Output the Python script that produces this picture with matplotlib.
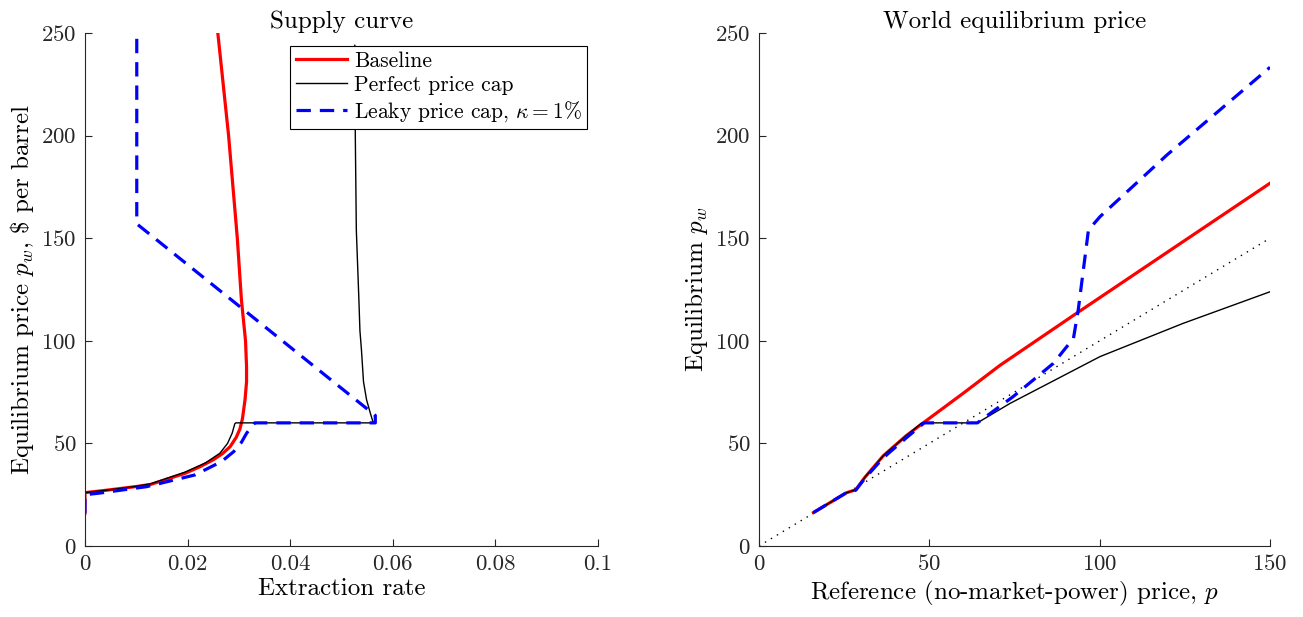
import matplotlib
matplotlib.use("Agg")
from matplotlib import pyplot as plt

plt.rcParams['font.family'] = 'serif'
plt.rcParams['font.serif'] = ['cmr10']
plt.rcParams['mathtext.fontset'] = 'cm'
plt.rcParams['axes.formatter.use_mathtext'] = True

# ---- supply curve (extraction rate q, price p) ----
base_q = [0, 0, 0.0036, 0.0098, 0.0128, 0.0195, 0.0224, 0.025, 0.0268, 0.0283, 0.0295, 0.0302,
          0.0307, 0.0312, 0.0315, 0.0315, 0.0313, 0.0309, 0.0305, 0.0297, 0.028, 0.0259]
base_p = [16, 26, 27, 28.9, 30, 35.4, 38.6, 42, 45, 48.4, 53, 57,
          62, 71.2, 80, 87.4, 100, 110, 120, 150, 200, 250]

perf_q = [0, 0, 0.0036, 0.0098, 0.0128, 0.0195, 0.0235, 0.0263, 0.0278, 0.0287, 0.0292, 0.0294,
          0.0562, 0.0556, 0.0549, 0.0543, 0.0539, 0.0536, 0.0534, 0.0529, 0.0527, 0.0526]
perf_p = [16, 26, 27, 29, 30.3, 36, 40.5, 45.2, 50, 55, 59.5, 60,
          60, 65, 71.2, 80, 95.5, 105, 120, 154, 200, 244]

leak_q = [0, 0, 0.0026, 0.012, 0.0214, 0.0266, 0.029, 0.0305, 0.0315, 0.0324, 0.0331,
          0.0566, 0.0566, 0.0101, 0.0101]
leak_p = [16, 25, 25.7, 28.9, 34.6, 41.1, 46, 50.5, 54.9, 58, 60,
          60, 63.6, 157, 250]

# ---- world equilibrium price (reference p, equilibrium pw) ----
ref_base = [16, 25.6, 28.4, 31.1, 36.5, 43.1, 47.8, 60, 70.7, 93.2, 119.7, 150]
pw_base = [16.3, 25.9, 27.4, 33.5, 44, 53.6, 59.5, 74.5, 88, 113.4, 143, 176.8]

ref_perf = [16, 25.6, 28.4, 31.1, 36.5, 43.1, 47.8, 64.1, 73.7, 100.1, 124.5, 150]
pw_perf = [16.3, 25.9, 27.4, 33.5, 44, 53.6, 60, 60, 69.5, 92.3, 108.5, 123.9]

ref_leak = [16, 25.6, 28.4, 31.1, 36.5, 43.1, 48.5, 64.1, 74.6, 86.4, 92.3,
            93.7, 94.7, 95.7, 96.7, 100.1, 119.7, 150]
pw_leak = [16.3, 25.9, 27.2, 33, 43, 52.5, 60, 60, 72.8, 89, 101.2,
           115, 128, 141, 154, 160.5, 190.5, 233.3]

ref_diag = [0, 150]

red = (1, 0, 0)
blue = (0, 0, 1)
axcol = (0.15, 0.15, 0.15)
dash = (0, (4.5, 2.8))

fig = plt.figure(figsize=(13.03, 6.17), dpi=100)
ax1 = fig.add_axes([0.0652, 0.1151, 0.3937, 0.8314])
ax2 = fig.add_axes([0.5825, 0.1151, 0.3922, 0.8314])

ax1.plot(base_q, base_p, color=red, lw=2.3, label='Baseline')
ax1.plot(perf_q, perf_p, color='k', lw=1.0, label='Perfect price cap')
ax1.plot(leak_q, leak_p, color=blue, lw=2.3, ls=dash, label=r'Leaky price cap, $\kappa = 1\%$')
ax1.set_xlim(0, 0.1)
ax1.set_ylim(0, 250)
ax1.set_xticks([0, 0.02, 0.04, 0.06, 0.08, 0.1])
ax1.set_xticklabels(['0', '0.02', '0.04', '0.06', '0.08', '0.1'])
ax1.set_yticks([0, 50, 100, 150, 200, 250])
ax1.set_title('Supply curve', fontsize=18, pad=3)
ax1.set_xlabel('Extraction rate', fontsize=18, labelpad=3)
ax1.set_ylabel(r'Equilibrium price $p_w$, \$ per barrel', fontsize=18, labelpad=4)
leg = ax1.legend(loc='upper right', bbox_to_anchor=(0.979, 0.975), fontsize=15.5, frameon=True,
                 fancybox=False, edgecolor='k', framealpha=1, borderpad=0.25,
                 labelspacing=0.2, handlelength=2.4, handletextpad=0.3, borderaxespad=0)
leg.get_frame().set_linewidth(0.8)

ax2.plot(ref_diag, ref_diag, color='k', lw=1.0, ls=(0, (1, 4)))
ax2.plot(ref_base, pw_base, color=red, lw=2.3)
ax2.plot(ref_perf, pw_perf, color='k', lw=1.0)
ax2.plot(ref_leak, pw_leak, color=blue, lw=2.3, ls=dash)
ax2.set_xlim(0, 150)
ax2.set_ylim(0, 250)
ax2.set_xticks([0, 50, 100, 150])
ax2.set_yticks([0, 50, 100, 150, 200, 250])
ax2.set_title('World equilibrium price', fontsize=18, pad=3)
ax2.set_xlabel(r'Reference (no-market-power) price, $p$', fontsize=18, labelpad=3)
ax2.set_ylabel(r'Equilibrium $p_w$', fontsize=18, labelpad=4)

for ax in (ax1, ax2):
    for s in ('top', 'right'):
        ax.spines[s].set_visible(False)
    for s in ('left', 'bottom'):
        ax.spines[s].set_color(axcol)
        ax.spines[s].set_linewidth(0.8)
    ax.tick_params(direction='in', length=5, width=0.8, color=axcol, labelcolor=axcol,
                   labelsize=16.5, pad=6)

fig.savefig('out.png', dpi=100)
